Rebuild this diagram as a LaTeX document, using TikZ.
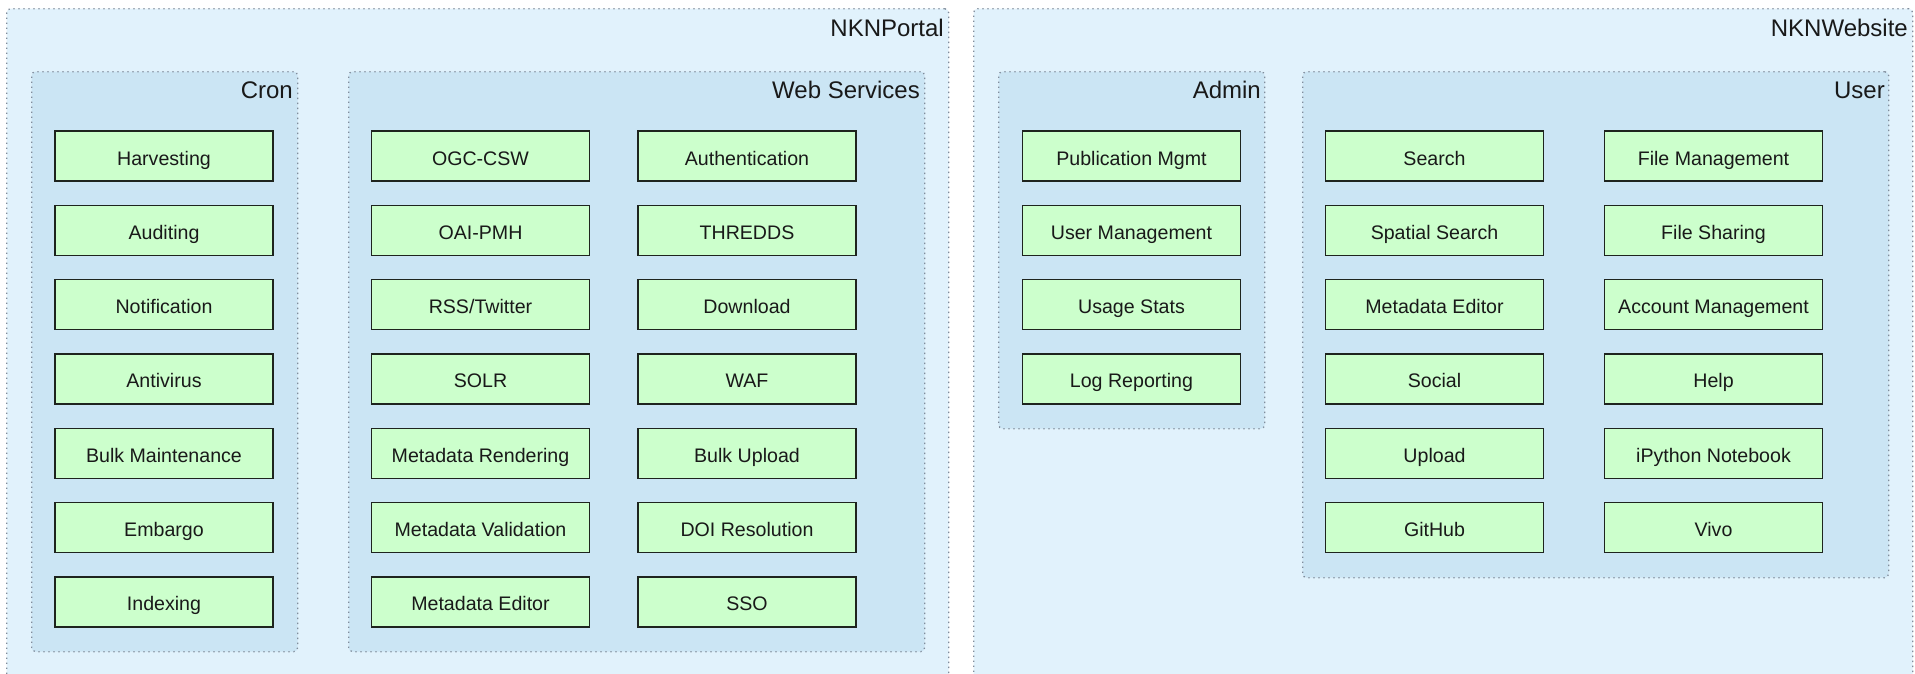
\documentclass[tikz,border=0pt]{standalone}
\usepackage{fontspec}
\setmainfont{Liberation Sans}
\definecolor{outerblue}{RGB}{225,242,252}
\definecolor{innerblue}{RGB}{203,229,244}
\definecolor{itemgreen}{RGB}{204,255,204}
\definecolor{dotgray}{RGB}{128,140,155}
\definecolor{itemborder}{RGB}{30,36,30}
\definecolor{txt}{RGB}{25,25,25}
\tikzset{
  outerbox/.style={fill=outerblue, draw=dotgray, line width=1.3pt, dash pattern=on 1.3pt off 3.7pt, rounded corners=4pt, anchor=north west, inner sep=0pt},
  groupbox/.style={fill=innerblue, draw=dotgray, line width=1.3pt, dash pattern=on 1.3pt off 3.7pt, rounded corners=4pt, anchor=north west, inner sep=0pt},
  itembox/.style={fill=itemgreen, draw=itemborder, line width=1.5pt, minimum width=218pt, minimum height=50pt, inner sep=0pt, text height=18pt, text depth=0pt, text=txt, font=\fontsize{19.6}{22}\selectfont},
  grouptitle/.style={anchor=base east, inner sep=0pt, text=txt, font=\fontsize{24}{28}\selectfont}
}
\begin{document}
\begin{tikzpicture}[x=1pt,y=-1pt]
\useasboundingbox (0,0) rectangle (1915,673);
\clip (0,0) rectangle (1915,673);
\fill[white] (0,0) rectangle (1915,673);
% outer containers
\node[outerbox, minimum width=942pt, minimum height=690pt] (portal) at (6,8) {};
\node[grouptitle] (portalT) at (944,36) {NKNPortal};
\node[outerbox, minimum width=939pt, minimum height=690pt] (website) at (973,8) {};
\node[grouptitle] (websiteT) at (1908,36) {NKNWebsite};
% groups
\node[groupbox, minimum width=266pt, minimum height=580pt] (cron) at (31,71) {};
\node[grouptitle] (cronT) at (293,98) {Cron};
\node[groupbox, minimum width=576pt, minimum height=580pt] (ws) at (348,71) {};
\node[grouptitle] (wsT) at (920,98) {Web Services};
\node[groupbox, minimum width=266pt, minimum height=357pt] (admin) at (998,71) {};
\node[grouptitle] (adminT) at (1261,98) {Admin};
\node[groupbox, minimum width=586pt, minimum height=506pt] (user) at (1302,71) {};
\node[grouptitle] (userT) at (1885,98) {User};
% Cron items
\foreach \t [count=\i from 0] in {Harvesting,Auditing,Notification,Antivirus,Bulk Maintenance,Embargo,Indexing}
  \node[itembox] (c\i) at (164,156+74.33*\i) {\t};
% Web services items
\foreach \t [count=\i from 0] in {OGC-CSW,OAI-PMH,RSS/Twitter,SOLR,Metadata Rendering,Metadata Validation,Metadata Editor}
  \node[itembox] (wa\i) at (480.5,156+74.33*\i) {\t};
\foreach \t [count=\i from 0] in {Authentication,THREDDS,Download,WAF,Bulk Upload,DOI Resolution,SSO}
  \node[itembox] (wb\i) at (747,156+74.33*\i) {\t};
% Admin items
\foreach \t [count=\i from 0] in {Publication Mgmt,User Management,Usage Stats,Log Reporting}
  \node[itembox] (a\i) at (1131.5,156+74.33*\i) {\t};
% User items
\foreach \t [count=\i from 0] in {Search,Spatial Search,Metadata Editor,Social,Upload,GitHub}
  \node[itembox] (ua\i) at (1434.5,156+74.33*\i) {\t};
\foreach \t [count=\i from 0] in {File Management,File Sharing,Account Management,Help,iPython Notebook,Vivo}
  \node[itembox] (ub\i) at (1713.5,156+74.33*\i) {\t};
\end{tikzpicture}
\end{document}
